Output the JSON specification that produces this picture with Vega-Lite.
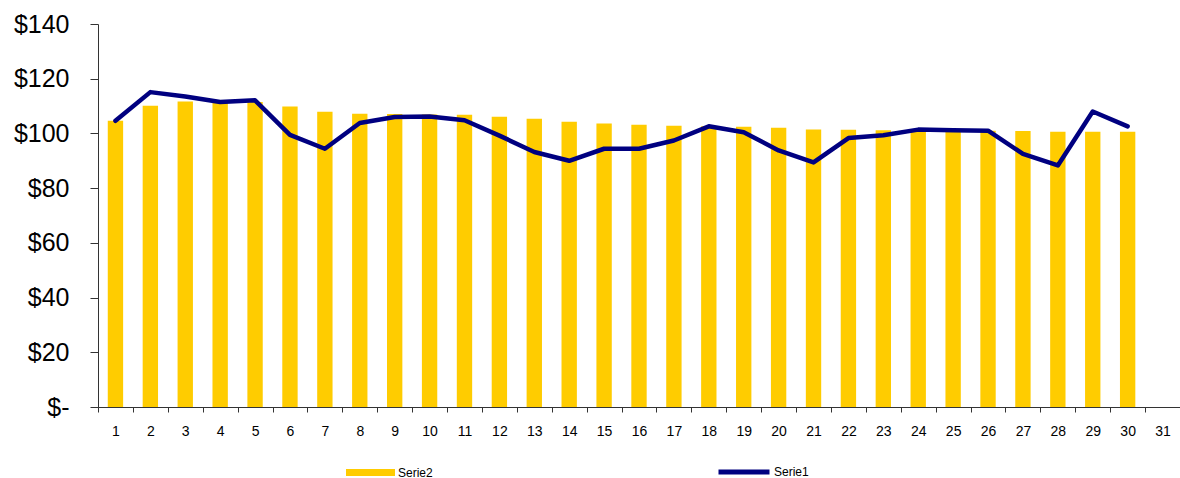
{
  "$schema": "https://vega.github.io/schema/vega-lite/v6.json",
  "width": 1082,
  "height": 383,
  "autosize": "none",
  "padding": {"left": 98, "top": 24, "right": 0, "bottom": 71},
  "background": "white",
  "config": {
    "font": "Liberation Sans",
    "view": {"stroke": null},
    "axis": {"labelFont": "Liberation Sans", "labelColor": "#000000", "domainColor": "#333333", "tickColor": "#333333", "grid": false, "title": null}
  },
  "data": {
    "values": [
      {"day": 1, "serie2": 104.6, "serie1": 104.6},
      {"day": 2, "serie2": 110.1, "serie1": 115.1},
      {"day": 3, "serie2": 111.7, "serie1": 113.5},
      {"day": 4, "serie2": 111.2, "serie1": 111.5},
      {"day": 5, "serie2": 111.5, "serie1": 112.1},
      {"day": 6, "serie2": 109.8, "serie1": 99.5},
      {"day": 7, "serie2": 107.9, "serie1": 94.4},
      {"day": 8, "serie2": 107.2, "serie1": 103.8},
      {"day": 9, "serie2": 107.1, "serie1": 106.0},
      {"day": 10, "serie2": 106.9, "serie1": 106.2},
      {"day": 11, "serie2": 106.8, "serie1": 104.8},
      {"day": 12, "serie2": 106.1, "serie1": 99.2},
      {"day": 13, "serie2": 105.4, "serie1": 93.2},
      {"day": 14, "serie2": 104.3, "serie1": 90.0},
      {"day": 15, "serie2": 103.6, "serie1": 94.4},
      {"day": 16, "serie2": 103.2, "serie1": 94.4},
      {"day": 17, "serie2": 102.8, "serie1": 97.4},
      {"day": 18, "serie2": 102.6, "serie1": 102.6},
      {"day": 19, "serie2": 102.4, "serie1": 100.4},
      {"day": 20, "serie2": 102.1, "serie1": 93.8},
      {"day": 21, "serie2": 101.4, "serie1": 89.4},
      {"day": 22, "serie2": 101.3, "serie1": 98.3},
      {"day": 23, "serie2": 101.2, "serie1": 99.3},
      {"day": 24, "serie2": 101.1, "serie1": 101.4},
      {"day": 25, "serie2": 101.1, "serie1": 101.2},
      {"day": 26, "serie2": 101.0, "serie1": 101.0},
      {"day": 27, "serie2": 100.9, "serie1": 92.5},
      {"day": 28, "serie2": 100.6, "serie1": 88.3},
      {"day": 29, "serie2": 100.6, "serie1": 108.0},
      {"day": 30, "serie2": 100.6, "serie1": 102.6}
    ]
  },
  "encoding": {
    "x": {
      "field": "day",
      "type": "ordinal",
      "scale": {"type": "band", "domain": [1,2,3,4,5,6,7,8,9,10,11,12,13,14,15,16,17,18,19,20,21,22,23,24,25,26,27,28,29,30,31], "paddingInner": 0, "paddingOuter": 0},
      "axis": {"labelAngle": 0, "tickBand": "extent", "tickSize": 5, "labelFontSize": 14, "labelPadding": 12}
    }
  },
  "layer": [
    {
      "mark": {"type": "bar", "width": {"band": 0.44}},
      "encoding": {
        "y": {
          "field": "serie2",
          "type": "quantitative",
          "scale": {"domain": [0, 140], "nice": false, "zero": true},
          "axis": {"values": [0, 20, 40, 60, 80, 100, 120, 140], "labelExpr": "datum.value == 0 ? '$-' : '$' + datum.value", "labelFontSize": 25, "tickSize": 8, "labelPadding": 21}
        },
        "fill": {
          "datum": "Serie2",
          "scale": {"domain": ["Serie2"], "range": ["#FFCC00"]},
          "legend": {"orient": "none", "legendX": 248, "legendY": 424, "title": null, "padding": 0, "symbolType": "M-1,-0.14H1V0.14H-1Z", "symbolSize": 2401, "symbolStrokeWidth": 0, "labelFontSize": 12, "labelOffset": 3, "labelColor": "#000000"}
        }
      }
    },
    {
      "mark": {"type": "line", "strokeWidth": 4.5, "strokeCap": "round", "strokeJoin": "round"},
      "encoding": {
        "y": {"field": "serie1", "type": "quantitative"},
        "stroke": {
          "datum": "Serie1",
          "scale": {"domain": ["Serie1"], "range": ["#000080"]},
          "legend": {"orient": "none", "legendX": 618, "legendY": 420, "title": null, "padding": 0, "symbolType": "stroke", "symbolSize": 2601, "symbolStrokeWidth": 5, "labelFontSize": 12, "labelOffset": 2, "labelColor": "#000000"}
        }
      }
    }
  ]
}
